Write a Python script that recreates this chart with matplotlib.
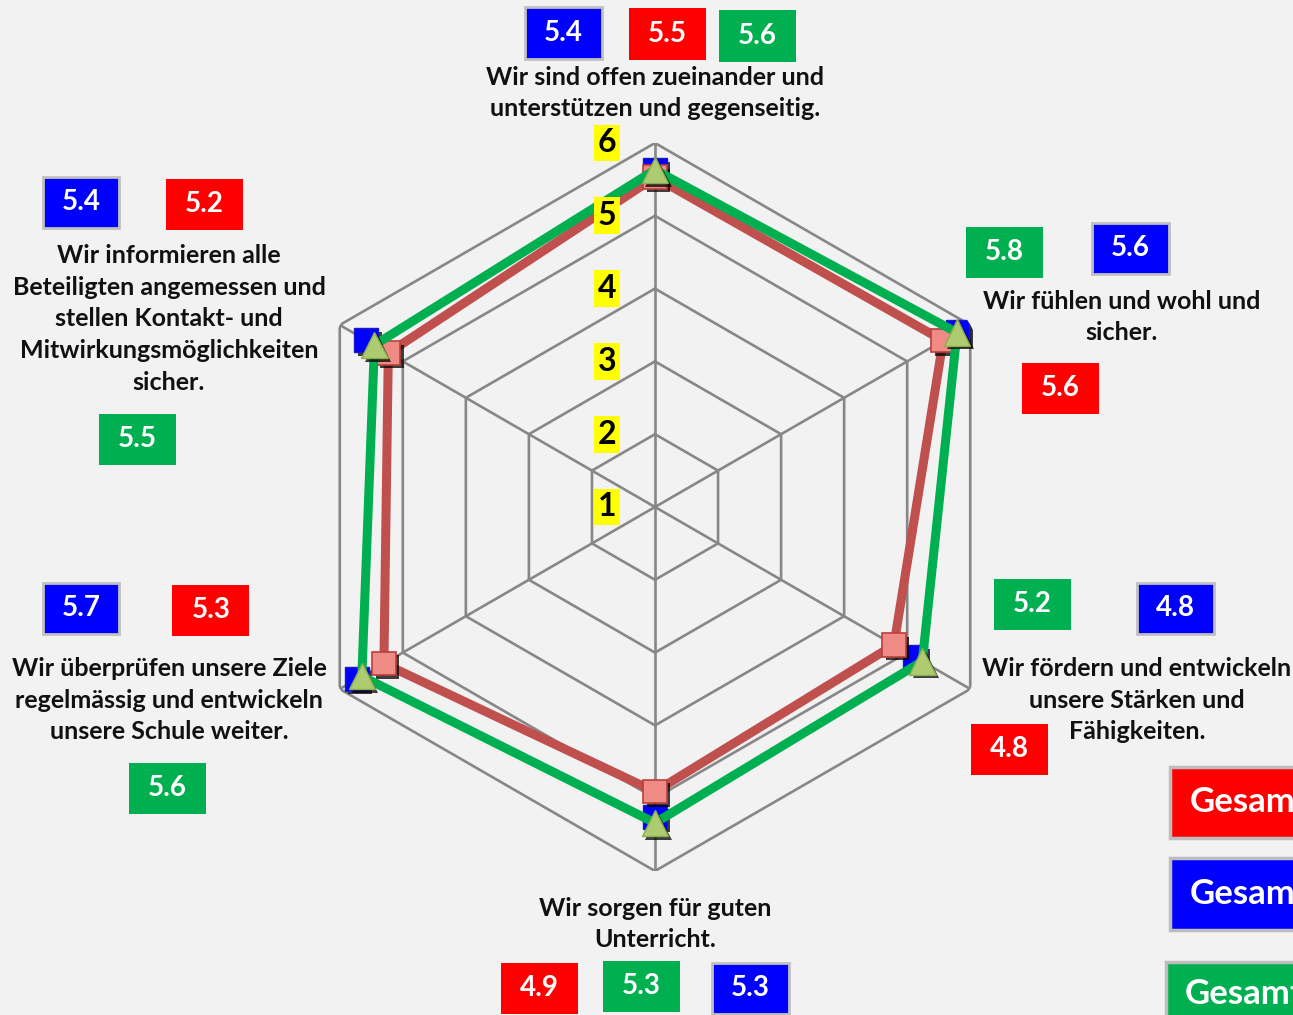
import matplotlib
matplotlib.use('Agg')
import matplotlib.pyplot as plt
import numpy as np
from matplotlib.patches import Rectangle
import matplotlib.patheffects as pe
from matplotlib.transforms import offset_copy

# ---------------- data ----------------
categories = [
    "Wir sind offen zueinander und\nunterstützen und gegenseitig.",
    "Wir fühlen und wohl und\nsicher.",
    "Wir fördern und entwickeln\nunsere Stärken und\nFähigkeiten.",
    "Wir sorgen für guten\nUnterricht.",
    "Wir überprüfen unsere Ziele\nregelmässig und entwickeln\nunsere Schule weiter.",
    "Wir informieren alle\nBeteiligten angemessen und\nstellen Kontakt- und\nMitwirkungsmöglichkeiten\nsicher.",
]
blue_values = [5.63, 5.80, 5.12, 5.26, 5.73, 5.58]
red_values = [5.53, 5.57, 4.79, 4.91, 5.30, 5.23]
green_values = [5.63, 5.79, 5.24, 5.34, 5.65, 5.45]
blue_labels = ["5.4", "5.6", "4.8", "5.3", "5.7", "5.4"]
red_labels = ["5.5", "5.6", "4.8", "4.9", "5.3", "5.2"]
green_labels = ["5.6", "5.8", "5.2", "5.3", "5.6", "5.5"]
r_ticks = [1, 2, 3, 4, 5, 6]
legend_labels = ["Gesamt", "Gesamt", "Gesamt"]

# ---------------- figure ----------------
W, H = 1293, 1015
DPI = 100
BG = '#F2F2F2'
FONT = 'Lato'
fig = plt.figure(figsize=(W / DPI, H / DPI), dpi=DPI, facecolor=BG)

def fx(x):
    return x / W

def fy(y):
    return 1 - y / H

cx, cy, R = 655, 507, 364
ax = fig.add_axes([fx(cx - R), fy(cy + R), 2 * R / W, 2 * R / H], projection='polar')
ax.set_facecolor('none')
ax.set_theta_zero_location('N')
ax.set_theta_direction(-1)
ax.set_ylim(1, 6)
ax.grid(False)
ax.set_xticks([])
ax.set_yticks([])
ax.spines['polar'].set_visible(False)

n = len(categories)
theta = np.arange(n) * 2 * np.pi / n
theta_closed = np.append(theta, theta[0])

GRID = '#878787'
for r in r_ticks[1:]:
    ax.plot(theta_closed, [r] * (n + 1), color=GRID, lw=1.9, zorder=1, solid_joinstyle='miter')
for t in theta:
    ax.plot([t, t], [r_ticks[0], r_ticks[-1]], color=GRID, lw=1.9, zorder=1)

def closed(v):
    return list(v) + [v[0]]

shadow = [pe.withSimplePatchShadow(offset=(2.5, -2.5), shadow_rgbFace='black', alpha=0.75)]

# blue: markers only
ax.plot(theta, blue_values, ls='none', marker='s', ms=17, mfc='#0000FF', mec='#1A1AC0',
        mew=1, zorder=3, path_effects=shadow)
# red
ax.plot(theta_closed, closed(red_values), color='#C0504D', lw=6.5, zorder=4, solid_joinstyle='miter')
ax.plot(theta, red_values, ls='none', marker='s', ms=17, mfc='#F08A85', mec='#B9403C',
        mew=1.2, zorder=5, path_effects=shadow)
# green
ax.plot(theta_closed, closed(green_values), color='#00B050', lw=6.5, zorder=6, solid_joinstyle='miter')
ax.plot(theta, green_values, ls='none', marker='^', ms=19, mfc='#AECB72', mec='#8CAE4E',
        mew=1, zorder=7, path_effects=shadow)

# radial tick labels
tr = offset_copy(ax.transData, fig=fig, x=-48, y=0, units='dots')
for r in r_ticks:
    ax.text(0, r, str(r), transform=tr, ha='center', va='center', fontsize=23,
            fontweight='bold', family=FONT, color='black', zorder=8,
            bbox=dict(boxstyle='square,pad=0.12', fc='#FFFF00', ec='none'))

# category labels
cat_pos = [(655, 93), (1122, 317), (1137, 700), (655, 924), (169, 700), (169, 319)]
for (px, py), txt in zip(cat_pos, categories):
    fig.text(fx(px), fy(py), txt, ha='center', va='center', multialignment='center',
             fontsize=18, fontweight='bold', family=FONT, color='#111111', linespacing=1.45)

# value boxes
blue_pos = [(563, 33), (1130, 248), (1175, 608), (750, 988), (81, 608), (81, 202)]
red_pos = [(667, 34), (1060, 388), (1009, 749), (539, 988), (211, 610), (204, 204)]
green_pos = [(757, 36), (1004, 252), (1032, 604), (641, 986), (167, 788), (137, 439)]

def vbox(p, text, color, border):
    w, h = 77, 51
    x, y = p
    rect = Rectangle((fx(x - w / 2), fy(y + h / 2)), w / W, h / H, transform=fig.transFigure,
                     facecolor=color, edgecolor='#C0C0C0' if border else color,
                     lw=2 if border else 0, zorder=1)
    fig.patches.append(rect)
    fig.text(fx(x), fy(y), text, color='white', fontsize=20, fontweight='bold', family=FONT,
             ha='center', va='center', zorder=2)

for p, t in zip(blue_pos, blue_labels):
    vbox(p, t, '#0000FF', True)
for p, t in zip(red_pos, red_labels):
    vbox(p, t, '#FF0000', False)
for p, t in zip(green_pos, green_labels):
    vbox(p, t, '#00B050', False)

# legend boxes (cut off at right edge, as in the original)
leg_specs = [(1170, 767, 838, '#FF0000', 1190), (1170, 858, 930, '#0000FF', 1190),
             (1166, 962, 1030, '#00B050', 1185)]
for (x0, y0, y1, col, tx), lab in zip(leg_specs, legend_labels):
    rect = Rectangle((fx(x0), fy(y1)), (1320 - x0) / W, (y1 - y0) / H, transform=fig.transFigure,
                     facecolor=col, edgecolor='#BDBDBD', lw=2.5)
    fig.patches.append(rect)
    ty = (y0 + y1) / 2 if y1 < H else 994
    fig.text(fx(tx), fy(ty), lab, color='white', fontsize=25,
             fontweight='bold', family=FONT, ha='left', va='center')

fig.savefig('out.png', dpi=DPI, facecolor=BG)
